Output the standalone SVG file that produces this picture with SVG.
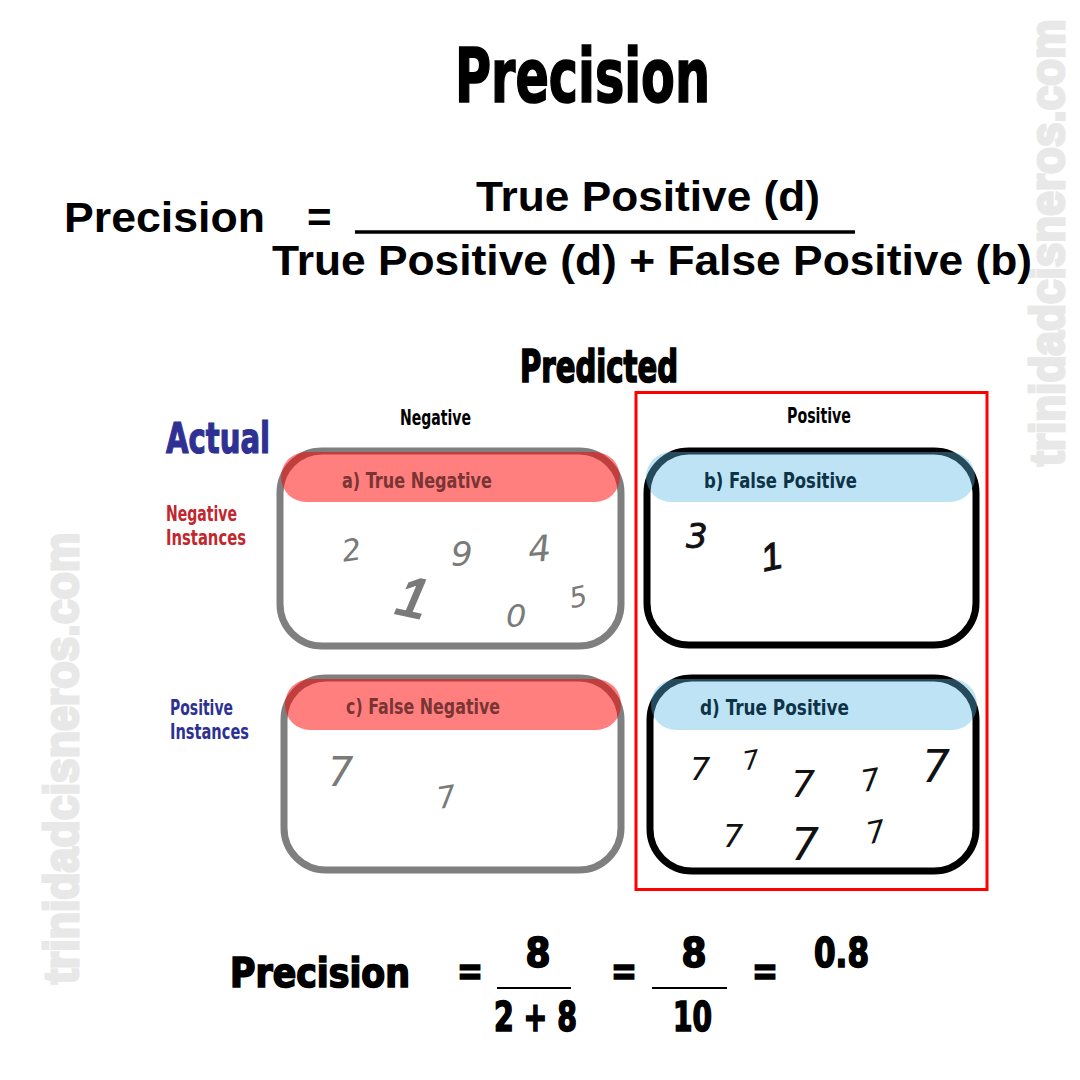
<svg xmlns="http://www.w3.org/2000/svg" width="1080" height="1080" viewBox="0 0 1080 1080">
<style>
.c{font-family:"Liberation Sans Narrow","DejaVu Sans Condensed","Liberation Sans",sans-serif;font-weight:bold}
.h{stroke:#000;stroke-width:1.6;paint-order:stroke}
.w{font-family:"Liberation Sans","DejaVu Sans",sans-serif;font-weight:bold}
.wm{font-family:"Liberation Sans","DejaVu Sans",sans-serif;font-weight:bold;fill:#e8e8e8;stroke:#e8e8e8;stroke-width:3;font-size:48px}
.hw{font-family:"DejaVu Sans","Liberation Sans",sans-serif;font-style:italic;font-weight:normal}
.one{font-family:"Liberation Sans","DejaVu Sans",sans-serif;font-style:italic;font-weight:normal}
.gbox{fill:#fff;stroke:#7f7f7f;stroke-width:7}
.kbox{fill:#fff;stroke:#000;stroke-width:7}
.rh{fill:#ff0000;fill-opacity:0.5}
.bh{fill:#5ab8e6;fill-opacity:0.4}
.rt{fill:#7a3434;font-size:22px}
.bt{fill:#0d3347;font-size:22px}
.g{fill:#7a7a7a}
.k{fill:#111}
</style>
<rect width="1080" height="1080" fill="#fff"/>
<g id="watermarks">
<text class="wm" transform="translate(1064,466) rotate(-90) scale(0.92,1)">trinidadcisneros.com</text>
<text class="wm" transform="translate(78,984) rotate(-90) scale(0.93,1)">trinidadcisneros.com</text>
</g>
<g id="title">
<text class="c h" x="455" y="102" font-size="74" textLength="255" lengthAdjust="spacingAndGlyphs">Precision</text>
</g>
<g id="formula">
<text class="w" x="64" y="232" font-size="42" textLength="201" lengthAdjust="spacingAndGlyphs">Precision</text>
<text class="w" x="307" y="232" font-size="42">=</text>
<text class="w" x="476" y="211" font-size="42" textLength="344" lengthAdjust="spacingAndGlyphs">True Positive (d)</text>
<line x1="355" y1="232" x2="855" y2="232" stroke="#000" stroke-width="3.5"/>
<text class="w" x="272" y="275" font-size="42" textLength="760" lengthAdjust="spacingAndGlyphs">True Positive (d) +  False Positive (b)</text>
</g>
<g id="headers">
<text class="c h" x="520" y="382" font-size="44" textLength="158" lengthAdjust="spacingAndGlyphs">Predicted</text>
<text class="c" x="400" y="425" font-size="22" textLength="71" lengthAdjust="spacingAndGlyphs">Negative</text>
<text class="c" x="787" y="423" font-size="22" textLength="64" lengthAdjust="spacingAndGlyphs">Positive</text>
<text class="c" x="166" y="453" font-size="42" fill="#2e3192" stroke="#2e3192" stroke-width="1.2" textLength="104" lengthAdjust="spacingAndGlyphs">Actual</text>
<text class="c" x="166" y="521" font-size="21" fill="#c1272d" textLength="71" lengthAdjust="spacingAndGlyphs">Negative</text>
<text class="c" x="166" y="545" font-size="21" fill="#c1272d" textLength="80" lengthAdjust="spacingAndGlyphs">Instances</text>
<text class="c" x="170" y="715" font-size="21" fill="#2e3192" textLength="63" lengthAdjust="spacingAndGlyphs">Positive</text>
<text class="c" x="170" y="739" font-size="21" fill="#2e3192" textLength="79" lengthAdjust="spacingAndGlyphs">Instances</text>
</g>
<rect id="highlight" x="636" y="392.5" width="351" height="497" fill="none" stroke="#ff0000" stroke-width="3"/>
<g id="node-a">
<rect class="gbox" x="280" y="451" width="341" height="195" rx="42"/>
<rect class="rh" x="281" y="452" width="339" height="50" rx="25"/>
<text class="c rt" x="342" y="488" textLength="150" lengthAdjust="spacingAndGlyphs">a) True Negative</text>
<text class="hw g" x="342" y="560" font-size="30" transform="rotate(-8 356 550)">2</text>
<text class="hw g" x="451" y="566" font-size="34">9</text>
<text class="hw g" x="528" y="561" font-size="36" transform="rotate(-5 543 547)">4</text>
<text class="one g" x="398" y="618" font-size="56" stroke="#7a7a7a" stroke-width="2" transform="rotate(12 420 595)">1</text>
<text class="hw g" x="506" y="627" font-size="32">0</text>
<text class="hw g" x="569" y="606" font-size="28" transform="rotate(-12 581 595)">5</text>
</g>
<g id="node-b">
<rect class="kbox" x="647" y="451" width="329" height="194" rx="42"/>
<rect class="bh" x="646" y="452" width="329" height="50" rx="25"/>
<text class="c bt" x="704" y="488" textLength="153" lengthAdjust="spacingAndGlyphs">b)  False Positive</text>
<text class="hw k" x="686" y="548" font-size="34" stroke="#111" stroke-width="0.8">3</text>
<text class="one k" x="760" y="569" font-size="38" stroke="#111" stroke-width="1" transform="rotate(-12 774 553)">1</text>
</g>
<g id="node-c">
<rect class="gbox" x="284" y="678" width="337" height="192" rx="42"/>
<rect class="rh" x="285" y="679" width="336" height="51" rx="25"/>
<text class="c rt" x="346" y="714" textLength="154" lengthAdjust="spacingAndGlyphs">c) False Negative</text>
<text class="hw g" x="328" y="786" font-size="40">7</text>
<text class="hw g" x="437" y="807" font-size="30" transform="rotate(-10 449 796)">7</text>
</g>
<g id="node-d">
<rect class="kbox" x="650" y="678" width="326" height="193" rx="42"/>
<rect class="bh" x="651" y="679" width="326" height="51" rx="25"/>
<text class="c bt" x="700" y="715" textLength="149" lengthAdjust="spacingAndGlyphs">d)   True Positive</text>
<text class="hw k" x="690" y="780" font-size="32">7</text>
<text class="hw k" x="743" y="769" font-size="26" transform="rotate(-10 753 760)">7</text>
<text class="hw k" x="791" y="797" font-size="38">7</text>
<text class="hw k" x="861" y="790" font-size="30" transform="rotate(-10 873 779)">7</text>
<text class="hw k" x="922" y="782" font-size="44">7</text>
<text class="hw k" x="723" y="847" font-size="32">7</text>
<text class="hw k" x="791" y="860" font-size="44">7</text>
<text class="hw k" x="866" y="842" font-size="30" transform="rotate(-12 878 830)">7</text>
</g>
<g id="result">
<text class="c h" x="230" y="987" font-size="40" textLength="180" lengthAdjust="spacingAndGlyphs">Precision</text>
<text class="c h" x="457" y="985" font-size="40" textLength="26" lengthAdjust="spacingAndGlyphs">=</text>
<text class="c h" x="538" y="967" font-size="40" text-anchor="middle">8</text>
<line x1="497" y1="988" x2="571" y2="988" stroke="#000" stroke-width="2"/>
<text class="c h" x="494" y="1031" font-size="40" textLength="83" lengthAdjust="spacingAndGlyphs">2 + 8</text>
<text class="c h" x="611" y="985" font-size="40" textLength="26" lengthAdjust="spacingAndGlyphs">=</text>
<text class="c h" x="694" y="967" font-size="40" text-anchor="middle">8</text>
<line x1="652" y1="988" x2="727" y2="988" stroke="#000" stroke-width="2"/>
<text class="c h" x="673" y="1031" font-size="40" textLength="39" lengthAdjust="spacingAndGlyphs">10</text>
<text class="c h" x="752" y="985" font-size="40" textLength="26" lengthAdjust="spacingAndGlyphs">=</text>
<text class="c h" x="814" y="967" font-size="40" textLength="55" lengthAdjust="spacingAndGlyphs">0.8</text>
</g>
</svg>
